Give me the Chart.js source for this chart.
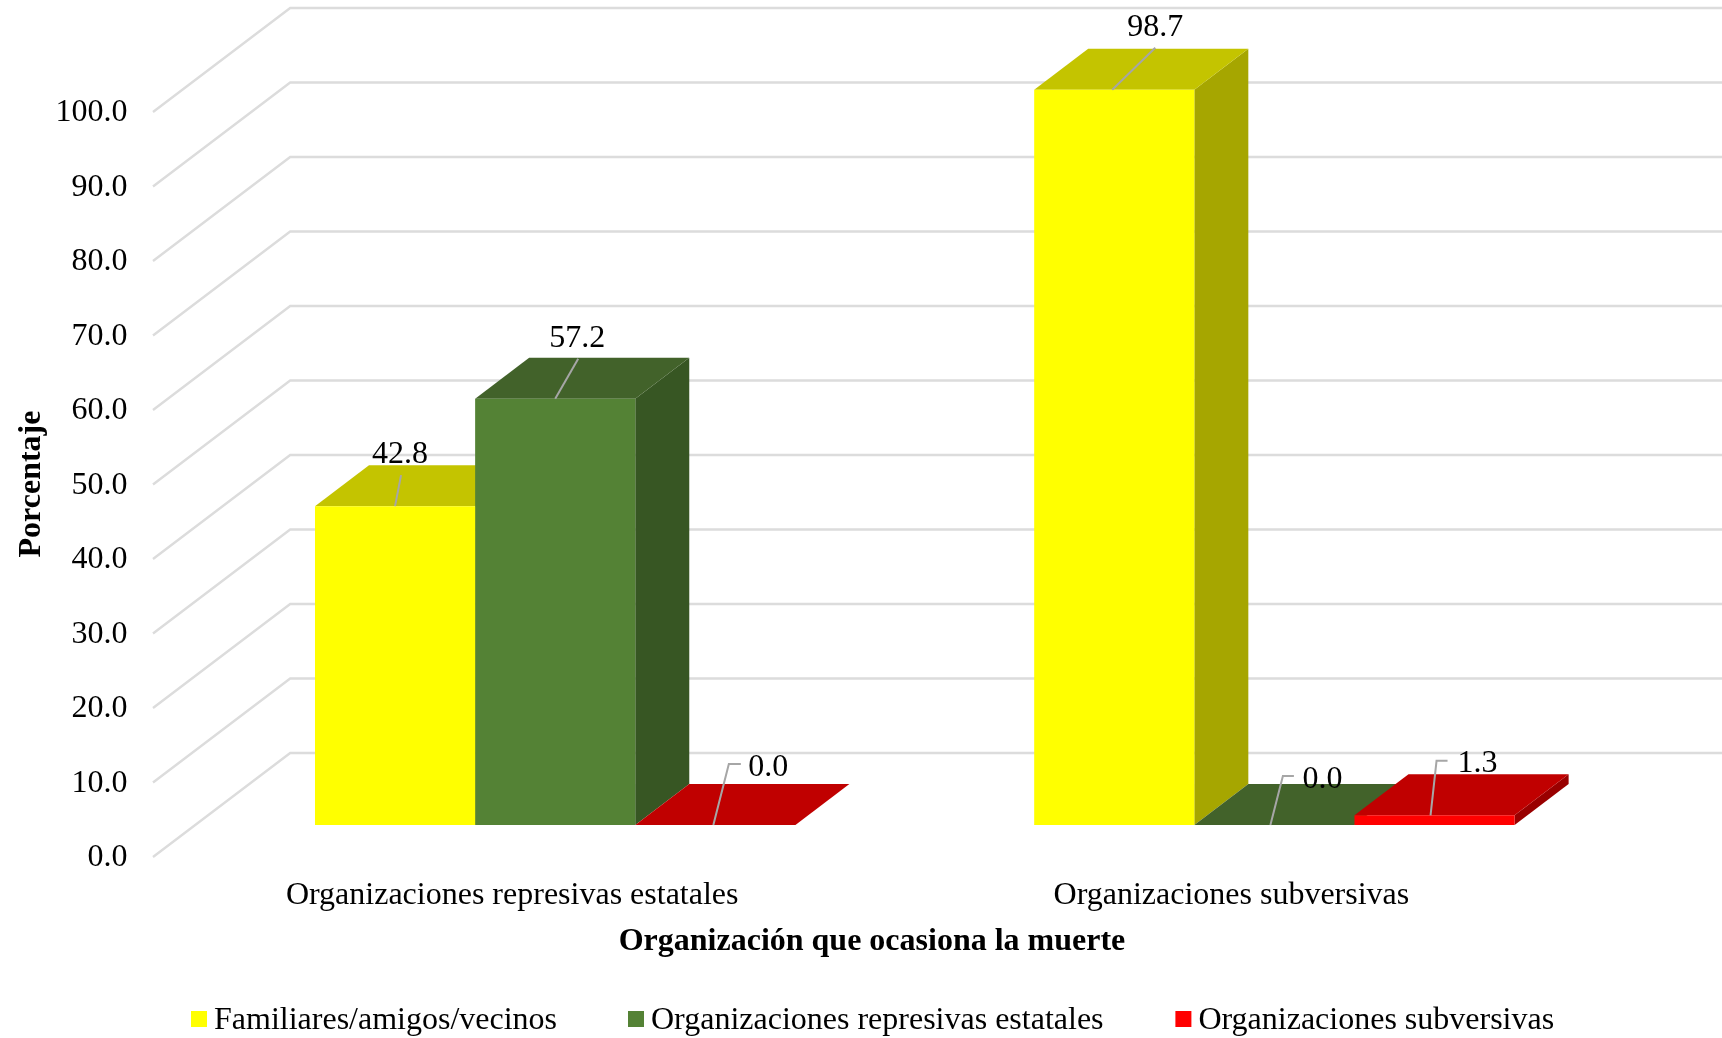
<!DOCTYPE html>
<html>
<head>
<meta charset="utf-8">
<style>html,body{margin:0;padding:0;background:#fff}canvas{display:block}</style>
<script src="https://cdn.jsdelivr.net/npm/chart.js@4/dist/chart.umd.min.js"></script>
</head>
<body>
<canvas id="c" width="1722" height="1038"></canvas>
<script>
const categories = ['Organizaciones represivas estatales', 'Organizaciones subversivas'];
const seriesNames = ['Familiares/amigos/vecinos', 'Organizaciones represivas estatales', 'Organizaciones subversivas'];
const familiares = [42.8, 98.7];
const represivas = [57.2, 0.0];
const subversivas = [0.0, 1.3];
const yTicks = [0, 10, 20, 30, 40, 50, 60, 70, 80, 90, 100];
const xTitle = 'Organización que ocasiona la muerte';
const yTitle = 'Porcentaje';

const frontColors = ['#FFFF00', '#548235', '#FF0000'];
const topColors = ['#C4C400', '#42622A', '#C00000'];
const sideColors = ['#A6A600', '#375623', '#990000'];
const FONT = '"Liberation Serif","Times New Roman",serif';
const DX = 54, DY = 41;

// leader geometry per [series][category]: anchor dx, tip dx, tip dy from bar top, elbow length, label dx, label dy
const leaders = [
  [{a:0, tx:6, ty:-31, e:0, lx:5, ly:-52}, {a:-2, tx:41, ty:-42, e:0, lx:41, ly:-62}],
  [{a:0, tx:23, ty:-40, e:0, lx:22, ly:-60}, {a:-4, tx:8.5, ty:-49, e:11, lx:28, ly:-45}],
  [{a:-2, tx:13.5, ty:-61, e:12, lx:33, ly:-57}, {a:-4, tx:2, ty:-54.5, e:11, lx:23, ly:-51.5}]
];

const poly = (ctx, pts, fill) => {
  ctx.beginPath();
  pts.forEach((p, i) => i ? ctx.lineTo(p[0], p[1]) : ctx.moveTo(p[0], p[1]));
  ctx.closePath();
  ctx.fillStyle = fill;
  ctx.fill();
};

const scene = {
  id: 'scene',
  beforeDatasetsDraw(chart) {
    const {ctx, scales: {y}, chartArea: area} = chart;
    ctx.save();
    // walls
    ctx.strokeStyle = '#DCDCDC';
    ctx.lineCap = 'butt';
    ctx.lineJoin = 'miter';
    yTicks.forEach(v => {
      const p = y.getPixelForValue(v);
      ctx.lineWidth = 2.4;
      ctx.beginPath();
      ctx.moveTo(area.left - 42.6, p + 32);
      ctx.lineTo(area.left + 94.6, p - 72);
      ctx.lineTo(1722, p - 72);
      ctx.stroke();
    });
    // 3D sides and tops of the bars
    chart.data.datasets.forEach((ds, s) => {
      chart.getDatasetMeta(s).data.forEach(bar => {
        const l = bar.x - bar.width / 2, r = bar.x + bar.width / 2, t = bar.y, b = bar.base;
        if (b - t > 0.5) poly(ctx, [[r, t], [r + DX, t - DY], [r + DX, b - DY], [r, b]], sideColors[s]);
        poly(ctx, [[l, t], [l + DX, t - DY], [r + DX, t - DY], [r, t]], topColors[s]);
      });
    });
    ctx.restore();
  },
  afterDatasetsDraw(chart) {
    const {ctx} = chart;
    ctx.save();
    // leader lines and value labels
    chart.data.datasets.forEach((ds, s) => {
      chart.getDatasetMeta(s).data.forEach((bar, i) => {
        const g = leaders[s][i], ax = bar.x + g.a, ay = bar.y;
        ctx.strokeStyle = '#A6A6A6';
        ctx.lineWidth = 2;
        ctx.beginPath();
        ctx.moveTo(ax, ay);
        ctx.lineTo(bar.x + g.tx, ay + g.ty);
        if (g.e) ctx.lineTo(bar.x + g.tx + g.e, ay + g.ty);
        ctx.stroke();
        ctx.fillStyle = '#000';
        ctx.font = '32px ' + FONT;
        ctx.textBaseline = 'middle';
        ctx.textAlign = 'center';
        const txt = ds.data[i].toFixed(1);
        const w = ctx.measureText(txt).width;
        ctx.fillText(txt, bar.x + (g.e ? g.lx + w / 2 : g.lx), ay + g.ly);
      });
    });
    // axis titles
    ctx.fillStyle = '#000';
    ctx.font = 'bold 32px ' + FONT;
    ctx.textAlign = 'center';
    ctx.textBaseline = 'middle';
    ctx.fillText(xTitle, 872, 942);
    ctx.save();
    ctx.translate(32, 484);
    ctx.rotate(-Math.PI / 2);
    ctx.fillText(yTitle, 0, 0);
    ctx.restore();
    // legend
    const boxes = [191, 628, 1175.4];
    ctx.font = '32px ' + FONT;
    ctx.textAlign = 'left';
    seriesNames.forEach((n, s) => {
      ctx.fillStyle = frontColors[s];
      ctx.fillRect(boxes[s], 1011, 16, 16);
      ctx.fillStyle = '#000';
      ctx.fillText(n, boxes[s] + 23, 1021);
    });
    ctx.restore();
  }
};

new Chart(document.getElementById('c'), {
  type: 'bar',
  data: {
    labels: categories,
    datasets: [familiares, represivas, subversivas].map((d, s) => ({
      label: seriesNames[s], data: d, backgroundColor: frontColors[s], borderWidth: 0,
      categoryPercentage: 0.668, barPercentage: 1
    }))
  },
  options: {
    responsive: false,
    animation: false,
    layout: {padding: {left: 0, right: 88, top: 80, bottom: 0}},
    plugins: {legend: {display: false}, title: {display: false}, tooltip: {enabled: false}},
    scales: {
      x: {
        grid: {display: false}, border: {display: false},
        afterFit: s => { s.height = 213; },
        ticks: {color: '#000', font: {family: FONT, size: 32, lineHeight: 1}, padding: 47, labelOffset: -43, maxRotation: 0, autoSkip: false}
      },
      y: {
        min: 0, max: 100,
        grid: {display: false}, border: {display: false},
        afterFit: s => { s.width = 195.6; },
        ticks: {color: '#000', font: {family: FONT, size: 32, lineHeight: 1}, padding: 60, stepSize: 10, labelOffset: 33, callback: v => v.toFixed(1)}
      }
    }
  },
  plugins: [scene]
});
</script>
</body>
</html>
